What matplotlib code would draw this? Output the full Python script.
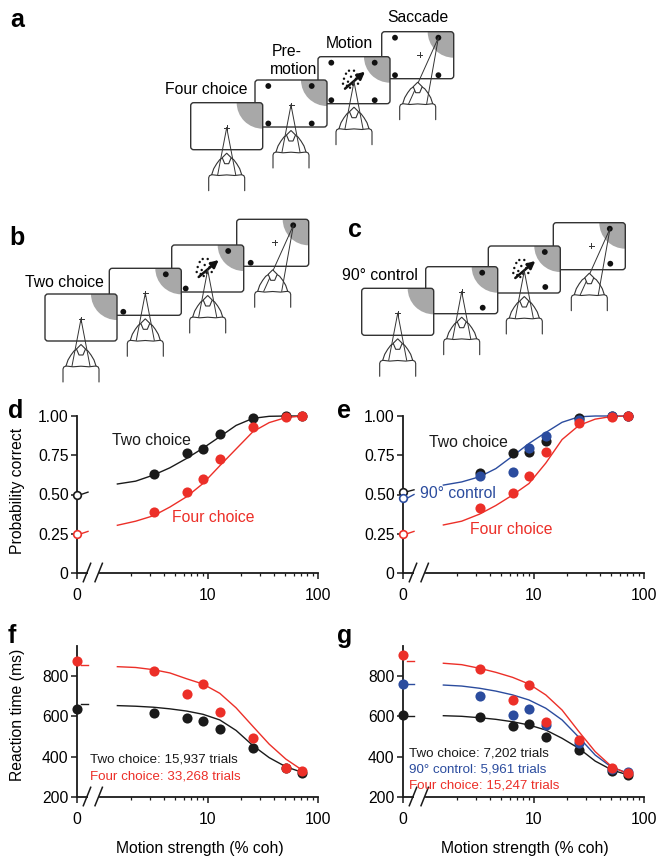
import numpy as np
import matplotlib
matplotlib.use('Agg')
import matplotlib.pyplot as plt
from matplotlib.patches import FancyBboxPatch, Circle

plt.rcParams['font.family'] = ['Liberation Sans', 'DejaVu Sans']

# ---------------- data ----------------
coh = [3.2, 6.4, 9.0, 12.8, 25.6, 51.2, 72.0]
fit_coh = [1.5, 2.2, 3.2, 4.5, 6.4, 9.0, 12.8, 18.0, 25.6, 36.0, 51.0, 72.0]

# d: probability correct
d_two = [0.629, 0.762, 0.788, 0.885, 0.99, 1.0, 1.0]
d_four = [0.389, 0.514, 0.599, 0.726, 0.928, 0.996, 1.0]
d_two_zero, d_four_zero = 0.50, 0.25
d_two_fit = [0.567, 0.585, 0.624, 0.67, 0.73, 0.795, 0.868, 0.94, 0.985, 0.998, 1.0, 1.0]
d_four_fit = [0.304, 0.33, 0.365, 0.42, 0.486, 0.57, 0.683, 0.79, 0.90, 0.958, 0.99, 1.0]
d_two_stub, d_four_stub = [0.50, 0.515], [0.25, 0.265]

# e: probability correct
e_two = [0.637, 0.762, 0.773, 0.841, 0.99, 1.0, 1.0]
e_ctrl = [0.616, 0.643, 0.798, 0.873, 0.975, 1.0, 1.0]
e_four = [0.414, 0.512, 0.618, 0.769, 0.953, 0.996, 1.0]
e_two_zero, e_ctrl_zero, e_four_zero = 0.518, 0.476, 0.25
e_ctrl_fit = [0.56, 0.58, 0.613, 0.665, 0.745, 0.825, 0.895, 0.96, 0.995, 1.0, 1.0, 1.0]
e_four_fit = [0.306, 0.33, 0.375, 0.43, 0.497, 0.57, 0.70, 0.85, 0.94, 0.98, 0.997, 1.0]
e_two_stub, e_ctrl_stub, e_four_stub = [0.518, 0.53], [0.476, 0.50], [0.25, 0.265]

# f: reaction time (ms)
f_two = [615, 590, 578, 536, 441, 342, 318]
f_four = [825, 709, 760, 620, 491, 345, 331]
f_two_zero, f_four_zero = 635, 876
f_two_fit = [653, 650, 645, 637, 626, 610, 582, 530, 455, 395, 350, 322]
f_four_fit = [846, 842, 831, 815, 786, 760, 714, 642, 550, 462, 388, 333]
f_two_stub, f_four_stub = [660, 660], [855, 855]

# g: reaction time (ms)
g_two = [595, 554, 562, 499, 433, 330, 309]
g_ctrl = [702, 605, 636, 556, 466, 339, 322]
g_four = [835, 681, 755, 570, 483, 342, 318]
g_two_zero, g_ctrl_zero, g_four_zero = 607, 760, 904
g_two_fit = [603, 600, 593, 585, 573, 557, 532, 491, 441, 378, 334, 309]
g_ctrl_fit = [755, 750, 739, 725, 706, 681, 640, 582, 496, 408, 347, 318]
g_four_fit = [863, 856, 838, 818, 793, 760, 706, 631, 524, 425, 350, 314]
g_two_stub, g_ctrl_stub, g_four_stub = [603, 603], [760, 760], [876, 876]

prob_ticks = [0, 0.25, 0.5, 0.75, 1.0]
prob_labels = ['0', '0.25', '0.50', '0.75', '1.00']
rt_ticks = [200, 400, 600, 800]
rt_labels = ['200', '400', '600', '800']
x_labels = ['0', '10', '100']

BLACK = '#1a1a1a'
RED = '#ec2f28'
BLUE = '#2b4c9e'
GRAY = '#a8a8a8'
LINE = '#333333'

W, H = 660, 859
fig = plt.figure(figsize=(6.6, 8.59), dpi=100)

ov = fig.add_axes([0, 0, 1, 1])
ov.set_xlim(0, W)
ov.set_ylim(H, 0)
ov.axis('off')
ov.set_zorder(0)


def fx(x):
    return x / W


def fy(y):
    return 1 - y / H


# ---------------- schematic ----------------
SW, SH = 72, 47
FOUR = [(13.3, 6), (56.7, 6), (13.3, 43.5), (56.7, 43.5)]
TWO = [(56.5, 6), (14, 43.5)]
NINETY = [(56.5, 6), (57, 41)]
TARGET = (56.7, 6)
MOTION_DOTS = [(-7, -6), (-4, -9), (-9, -1), (-5, 2), (-2, -3), (1, -9), (3, -1),
               (5, 4), (-6, 6), (0, 5), (4, -5), (-3, 8), (7, -3), (-10, 4)]


def draw_screen(x0, y0, dots, z, fix=True, motion=False, fixpos=(36, 25)):
    box = FancyBboxPatch((x0, y0), SW, SH, boxstyle='round,pad=0,rounding_size=3',
                         fc='white', ec='none', zorder=z)
    ov.add_patch(box)
    g = Circle((x0 + SW, y0), 26, fc=GRAY, ec='none', zorder=z + 0.1)
    g.set_clip_path(box)
    ov.add_patch(g)
    edge = FancyBboxPatch((x0, y0), SW, SH, boxstyle='round,pad=0,rounding_size=3',
                          fc='none', ec=LINE, lw=1.0, zorder=z + 0.3)
    ov.add_patch(edge)
    for dx, dy in dots:
        ov.add_patch(Circle((x0 + dx, y0 + dy), 2.9, fc='#111111', ec='none', zorder=z + 0.2))
    if fix:
        cx, cy = x0 + fixpos[0], y0 + fixpos[1]
        ov.plot([cx - 2.5, cx + 2.5], [cy, cy], color=LINE, lw=0.7, zorder=z + 0.2)
        ov.plot([cx, cx], [cy - 2.5, cy + 2.5], color=LINE, lw=0.7, zorder=z + 0.2)
    if motion:
        cx, cy = x0 + 35, y0 + 23
        for dx, dy in MOTION_DOTS:
            ov.add_patch(Circle((cx + dx, cy + dy), 1.2, fc='#111111', ec='none', zorder=z + 0.2))
        ov.annotate('', xy=(cx + 12, cy - 8), xytext=(cx - 8, cy + 9),
                    arrowprops=dict(arrowstyle='-|>', lw=1.8, color='#111111',
                                    mutation_scale=11, shrinkA=0, shrinkB=0), zorder=z + 0.25)


def draw_monkey(cx, cy, target, z=60):
    kw = dict(color=LINE, lw=0.8, zorder=z, solid_capstyle='round')
    bx = [-18, -18, -17.2, -15, -8, 0, 8, 15, 17.2, 18, 18]
    by = [37, 24, 22, 21, 21.8, 21.2, 21.8, 21, 22, 24, 37]
    ov.plot([cx + a for a in bx], [cy + b for b in by], **kw)
    hx = [-15, -13, -10, -7, -4]
    hy = [21, 15, 10, 6, 4]
    ov.plot([cx + a for a in hx], [cy + b for b in hy], **kw)
    ov.plot([cx - a for a in hx], [cy + b for b in hy], **kw)
    dx = [0, 4.5, 2, -2, -4.5, 0]
    dy = [-0.5, 4, 10, 10, 4, -0.5]
    ov.fill([cx + a for a in dx], [cy + b for b in dy], fc='white', ec=LINE, lw=0.8, zorder=z + 0.1)
    for s in (-9, 9):
        ov.plot([cx + s, target[0]], [cy + 21, target[1]], color=LINE, lw=0.7, zorder=z - 0.5)


def draw_panel(origins, dots):
    n = len(origins)
    for i, (x0, y0) in enumerate(origins):
        z = 10 + (n - i) * 5
        if i == 0:
            draw_screen(x0, y0, [], z)
        elif i == 1:
            draw_screen(x0, y0, dots, z)
        elif i == 2:
            draw_screen(x0, y0, dots, z, fix=False, motion=True)
        else:
            draw_screen(x0, y0, dots, z, fixpos=(38, 23))
    for i, (x0, y0) in enumerate(origins):
        apex = (x0 + SW / 2, y0 + SH + 4)
        if i < 3:
            tgt = (x0 + 36, y0 + 25)
        else:
            tgt = (x0 + TARGET[0], y0 + TARGET[1])
        draw_monkey(apex[0], apex[1], tgt)


draw_panel([(190.7, 102.7), (255, 80), (318, 56.7), (381.7, 31.7)], FOUR)
draw_panel([(45, 294), (109.3, 268.3), (171.7, 245), (236.7, 219.3)], TWO)
draw_panel([(361.7, 288.3), (425.7, 266.7), (488.3, 246), (553.3, 222.7)], NINETY)

TS = 11.3
fig.text(fx(248), fy(89), 'Four choice', ha='right', va='center', fontsize=TS)
fig.text(fx(271.5), fy(52), 'Pre-', ha='left', va='center', fontsize=TS)
fig.text(fx(270), fy(69), 'motion', ha='left', va='center', fontsize=TS)
fig.text(fx(325.7), fy(44), 'Motion', ha='left', va='center', fontsize=TS)
fig.text(fx(387.7), fy(18), 'Saccade', ha='left', va='center', fontsize=TS)
fig.text(fx(104), fy(282.7), 'Two choice', ha='right', va='center', fontsize=TS)
fig.text(fx(418), fy(276), '90° control', ha='right', va='center', fontsize=TS)

for letter, x, y in [('a', 10, 27), ('b', 9, 245), ('c', 348, 237), ('d', 8, 418),
                     ('e', 337, 418), ('f', 8, 643), ('g', 337, 643)]:
    fig.text(fx(x), fy(y), letter, ha='left', va='baseline', fontsize=18, fontweight='bold')

# ---------------- charts ----------------
XZERO = 10 ** (1 - 131 / 110)
XB1 = XZERO * 10 ** (11 / 110)
XB2 = XZERO * 10 ** (23 / 110)
S1 = XZERO * 10 ** (4 / 110)
S2 = XZERO * 10 ** (11 / 110)
minor = [2, 3, 4, 5, 6, 7, 8, 9, 20, 30, 40, 50, 60, 70, 80, 90]


def make_ax(x0, ytop, x1, ybot, ylim, yt, ytl):
    ax = fig.add_axes([fx(x0), fy(ybot), (x1 - x0) / W, (ybot - ytop) / H])
    ax.set_zorder(5)
    ax.patch.set_alpha(0)
    ax.set_xscale('log')
    ax.set_xlim(XZERO, 100)
    ax.set_ylim(*ylim)
    for s in ['top', 'right']:
        ax.spines[s].set_visible(False)
    ax.spines['left'].set_linewidth(1.3)
    ax.spines['bottom'].set_linewidth(1.3)
    ax.spines['left'].set_color(BLACK)
    ax.spines['bottom'].set_color(BLACK)
    ax.spines['bottom'].set_bounds(XB2, 100)
    ax.plot([XZERO, XB1], [ylim[0], ylim[0]], color=BLACK, lw=1.3, clip_on=False,
            solid_capstyle='butt')
    ax.set_xticks([XZERO, 10, 100])
    ax.set_xticklabels(x_labels)
    ax.set_xticks(minor, minor=True)
    ax.set_xticklabels([], minor=True)
    ax.set_yticks(yt)
    ax.set_yticklabels(ytl)
    ax.tick_params(which='major', length=4, width=1.1, color=BLACK, labelsize=11.3)
    ax.tick_params(which='minor', length=2.5, width=0.9, color=BLACK)
    ax.tick_params(axis='x', pad=7)
    ax.tick_params(axis='y', pad=2)
    # axis break slashes (pixel coords on overlay)
    for sx in (0, 11.7):
        ov.plot([x0 + 6.3 + sx, x0 + 13.7 + sx], [ybot + 8.7, ybot - 9.7], color=BLACK, lw=1.1)
    return ax


def pts(ax, y, color, z=5):
    ax.plot(coh, y, 'o', ms=7.3, color=color, mec=color, mew=0, clip_on=False, zorder=z)


def fit(ax, y, color, z=3):
    ax.plot(fit_coh, y, '-', color=color, lw=1.0, clip_on=False, zorder=z)


def zero(ax, y, color, filled, z=6):
    if filled:
        ax.plot([XZERO], [y], 'o', ms=7.3, color=color, mew=0, clip_on=False, zorder=z)
    else:
        ax.plot([XZERO], [y], 'o', ms=5.5, mfc='white', mec=color, mew=1.2,
                clip_on=False, zorder=z)


def stub(ax, ys, color):
    ax.plot([S1, S2], ys, '-', color=color, lw=1.0, clip_on=False, zorder=4)


# d
axd = make_ax(77, 416, 318, 573, (0, 1.0), prob_ticks, prob_labels)
fit(axd, d_two_fit, BLACK)
fit(axd, d_four_fit, RED)
stub(axd, d_two_stub, BLACK)
stub(axd, d_four_stub, RED)
pts(axd, d_two, BLACK)
pts(axd, d_four, RED)
zero(axd, d_two_zero, BLACK, False)
zero(axd, d_four_zero, RED, False)

# e
axe = make_ax(403, 416, 644, 573, (0, 1.0), prob_ticks, prob_labels)
fit(axe, e_ctrl_fit, BLUE)
fit(axe, e_four_fit, RED)
stub(axe, e_two_stub, BLACK)
stub(axe, e_ctrl_stub, BLUE)
stub(axe, e_four_stub, RED)
pts(axe, e_two, BLACK)
pts(axe, e_ctrl, BLUE)
pts(axe, e_four, RED)
zero(axe, e_two_zero, BLACK, False)
zero(axe, e_ctrl_zero, BLUE, False)
zero(axe, e_four_zero, RED, False)

# f
axf = make_ax(77, 645.7, 318, 797, (200, 950), rt_ticks, rt_labels)
fit(axf, f_two_fit, BLACK)
fit(axf, f_four_fit, RED)
stub(axf, f_two_stub, BLACK)
stub(axf, f_four_stub, RED)
pts(axf, f_two, BLACK)
pts(axf, f_four, RED)
zero(axf, f_two_zero, BLACK, True)
zero(axf, f_four_zero, RED, True)

# g
axg = make_ax(403, 645.7, 644, 797, (200, 950), rt_ticks, rt_labels)
fit(axg, g_two_fit, BLACK)
fit(axg, g_ctrl_fit, BLUE)
fit(axg, g_four_fit, RED)
stub(axg, g_two_stub, BLACK)
stub(axg, g_ctrl_stub, BLUE)
stub(axg, g_four_stub, RED)
pts(axg, g_two, BLACK)
pts(axg, g_ctrl, BLUE)
pts(axg, g_four, RED)
zero(axg, g_two_zero, BLACK, True)
zero(axg, g_ctrl_zero, BLUE, True)
zero(axg, g_four_zero, RED, True)

# in-chart annotations
fig.text(fx(112), fy(440), 'Two choice', ha='left', va='center', fontsize=TS, color=BLACK)
fig.text(fx(172), fy(517.7), 'Four choice', ha='left', va='center', fontsize=TS, color=RED)
fig.text(fx(429), fy(442.7), 'Two choice', ha='left', va='center', fontsize=TS, color=BLACK)
fig.text(fx(420), fy(493.3), '90° control', ha='left', va='center', fontsize=TS, color=BLUE)
fig.text(fx(470), fy(530), 'Four choice', ha='left', va='center', fontsize=TS, color=RED)

SS = 9.6
fig.text(fx(90), fy(760), 'Two choice: 15,937 trials', ha='left', va='center', fontsize=SS, color=BLACK)
fig.text(fx(90), fy(776.7), 'Four choice: 33,268 trials', ha='left', va='center', fontsize=SS, color=RED)
fig.text(fx(409), fy(754), 'Two choice: 7,202 trials', ha='left', va='center', fontsize=SS, color=BLACK)
fig.text(fx(409), fy(770), '90° control: 5,961 trials', ha='left', va='center', fontsize=SS, color=BLUE)
fig.text(fx(409), fy(785.7), 'Four choice: 15,247 trials', ha='left', va='center', fontsize=SS, color=RED)

fig.text(fx(18), fy(491), 'Probability correct', rotation=90, ha='center', va='center', fontsize=TS)
fig.text(fx(18), fy(715), 'Reaction time (ms)', rotation=90, ha='center', va='center', fontsize=TS)
fig.text(fx(200), fy(849), 'Motion strength (% coh)', ha='center', va='center', fontsize=TS)
fig.text(fx(525), fy(849), 'Motion strength (% coh)', ha='center', va='center', fontsize=TS)

fig.savefig('out.png', dpi=100)
